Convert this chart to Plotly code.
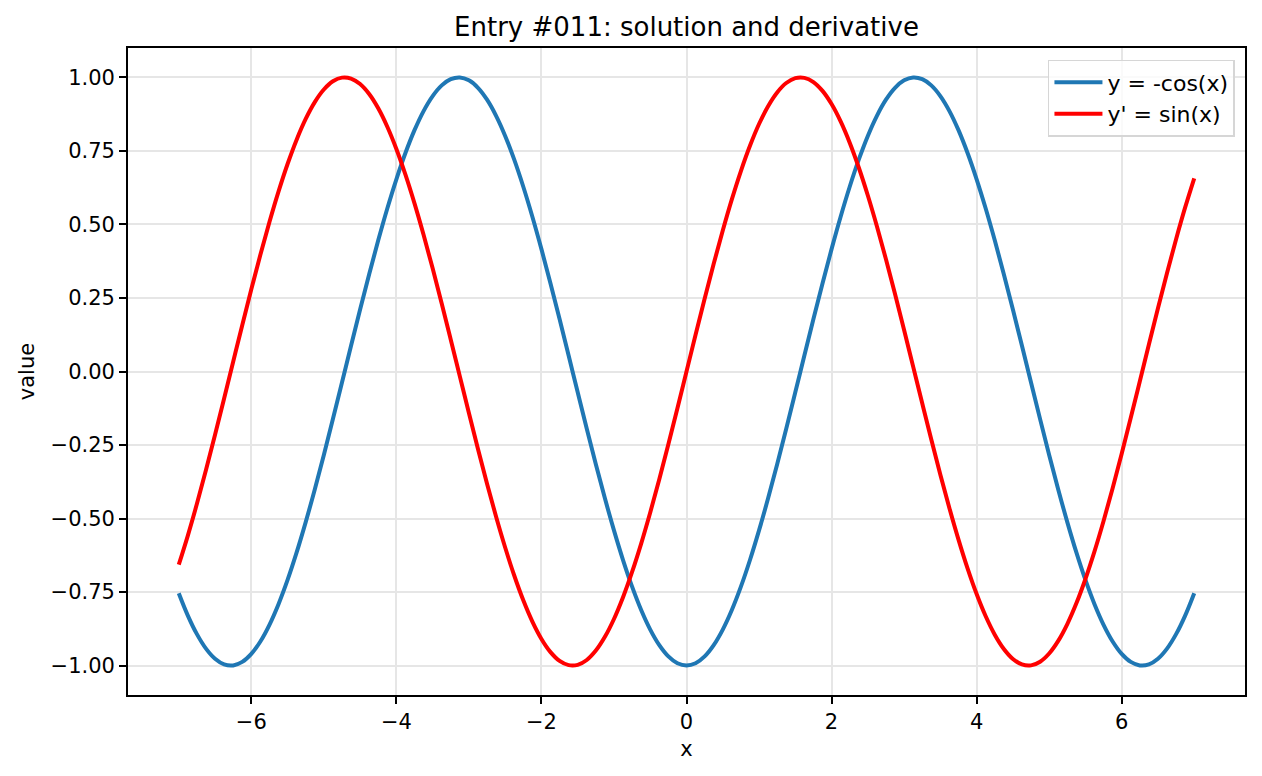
import plotly.graph_objects as go

# x sample positions
x_vals = [-7.0, -6.875, -6.75, -6.625, -6.5, -6.375, -6.25, -6.125, -6.0, -5.875, -5.75, -5.625,
          -5.5, -5.375, -5.25, -5.125, -5.0, -4.875, -4.75, -4.625, -4.5, -4.375, -4.25, -4.125,
          -4.0, -3.875, -3.75, -3.625, -3.5, -3.375, -3.25, -3.125, -3.0, -2.875, -2.75, -2.625,
          -2.5, -2.375, -2.25, -2.125, -2.0, -1.875, -1.75, -1.625, -1.5, -1.375, -1.25, -1.125,
          -1.0, -0.875, -0.75, -0.625, -0.5, -0.375, -0.25, -0.125,
          0.0,
          0.125, 0.25, 0.375, 0.5, 0.625, 0.75, 0.875, 1.0, 1.125, 1.25, 1.375, 1.5,
          1.625, 1.75, 1.875, 2.0, 2.125, 2.25, 2.375, 2.5, 2.625, 2.75, 2.875, 3.0,
          3.125, 3.25, 3.375, 3.5, 3.625, 3.75, 3.875, 4.0, 4.125, 4.25, 4.375, 4.5,
          4.625, 4.75, 4.875, 5.0, 5.125, 5.25, 5.375, 5.5, 5.625, 5.75, 5.875, 6.0,
          6.125, 6.25, 6.375, 6.5, 6.625, 6.75, 6.875, 7.0]

# y = -cos(x) values
y_vals = [-0.7539, -0.8299, -0.8930, -0.9422, -0.9766, -0.9958, -0.9994, -0.9875, -0.9602,
          -0.9179, -0.8612, -0.7911, -0.7087, -0.6152, -0.5121, -0.4010, -0.2837, -0.1619,
          -0.0376, 0.0873, 0.2108, 0.3310, 0.4461, 0.5542, 0.6536, 0.7429, 0.8206, 0.8855,
          0.9365, 0.9729, 0.9941, 0.9999, 0.9900, 0.9647, 0.9243, 0.8695, 0.8011, 0.7203,
          0.6282, 0.5263, 0.4161, 0.2995, 0.1782, 0.0542, -0.0707, -0.1945, -0.3153, -0.4312,
          -0.5403, -0.6410, -0.7317, -0.8110, -0.8776, -0.9305, -0.9689, -0.9922,
          -1.0,
          -0.9922, -0.9689, -0.9305, -0.8776, -0.8110, -0.7317, -0.6410, -0.5403, -0.4312,
          -0.3153, -0.1945, -0.0707, 0.0542, 0.1782, 0.2995, 0.4161, 0.5263, 0.6282, 0.7203,
          0.8011, 0.8695, 0.9243, 0.9647, 0.9900, 0.9999, 0.9941, 0.9729, 0.9365, 0.8855,
          0.8206, 0.7429, 0.6536, 0.5542, 0.4461, 0.3310, 0.2108, 0.0873, -0.0376, -0.1619,
          -0.2837, -0.4010, -0.5121, -0.6152, -0.7087, -0.7911, -0.8612, -0.9179, -0.9602,
          -0.9875, -0.9994, -0.9958, -0.9766, -0.9422, -0.8930, -0.8299, -0.7539]

# y' = sin(x) values
dy_vals = [-0.6570, -0.5579, -0.4500, -0.3352, -0.2151, -0.0917, 0.0332, 0.1575, 0.2794,
           0.3970, 0.5083, 0.6117, 0.7055, 0.7884, 0.8589, 0.9161, 0.9589, 0.9868, 0.9993,
           0.9962, 0.9775, 0.9436, 0.8950, 0.8324, 0.7568, 0.6694, 0.5716, 0.4648, 0.3508,
           0.2313, 0.1082, -0.0166, -0.1411, -0.2635, -0.3817, -0.4940, -0.5985, -0.6937,
           -0.7781, -0.8503, -0.9093, -0.9541, -0.9840, -0.9985, -0.9975, -0.9809, -0.9490,
           -0.9023, -0.8415, -0.7675, -0.6816, -0.5851, -0.4794, -0.3663, -0.2474, -0.1247,
           0.0,
           0.1247, 0.2474, 0.3663, 0.4794, 0.5851, 0.6816, 0.7675, 0.8415, 0.9023, 0.9490,
           0.9809, 0.9975, 0.9985, 0.9840, 0.9541, 0.9093, 0.8503, 0.7781, 0.6937, 0.5985,
           0.4940, 0.3817, 0.2635, 0.1411, 0.0166, -0.1082, -0.2313, -0.3508, -0.4648,
           -0.5716, -0.6694, -0.7568, -0.8324, -0.8950, -0.9436, -0.9775, -0.9962, -0.9993,
           -0.9868, -0.9589, -0.9161, -0.8589, -0.7884, -0.7055, -0.6117, -0.5083, -0.3970,
           -0.2794, -0.1575, -0.0332, 0.0917, 0.2151, 0.3352, 0.4500, 0.5579, 0.6570]

x_ticks = [-6, -4, -2, 0, 2, 4, 6]
x_tick_text = ["\u22126", "\u22124", "\u22122", "0", "2", "4", "6"]
y_ticks = [-1.0, -0.75, -0.5, -0.25, 0.0, 0.25, 0.5, 0.75, 1.0]
y_tick_text = ["\u22121.00", "\u22120.75", "\u22120.50", "\u22120.25", "0.00",
               "0.25", "0.50", "0.75", "1.00"]

FONT = "DejaVu Sans"

fig = go.Figure()
fig.add_trace(go.Scatter(x=x_vals, y=y_vals, mode="lines", name="y = -cos(x)",
                         line=dict(color="#1f77b4", width=4, shape="spline", smoothing=1)))
fig.add_trace(go.Scatter(x=x_vals, y=dy_vals, mode="lines", name="y' = sin(x)",
                         line=dict(color="#ff0000", width=4, shape="spline", smoothing=1)))

axis_common = dict(
    showline=True, linecolor="black", linewidth=1.7, mirror=True,
    ticks="outside", ticklen=7, tickwidth=1.7, tickcolor="black",
    showgrid=True, gridcolor="#e6e6e6", gridwidth=1.7, zeroline=False,
    tickfont=dict(family=FONT, size=21, color="black"),
)

fig.update_layout(
    width=1262, height=776,
    margin=dict(l=128, r=17, t=48, b=81),
    paper_bgcolor="white", plot_bgcolor="white",
    font=dict(family=FONT, color="black"),
    title=dict(text="Entry #011: solution and derivative", x=0.5, xanchor="center",
               xref="paper", y=1 - 27 / 776, yanchor="middle", yref="container",
               font=dict(family=FONT, size=26, color="black")),
    xaxis=dict(range=[-7.7, 7.7], tickvals=x_ticks, ticktext=x_tick_text,
               title=dict(text="x", font=dict(family=FONT, size=21), standoff=8),
               **axis_common),
    yaxis=dict(range=[-1.1, 1.1], tickvals=y_ticks, ticktext=y_tick_text,
               title=dict(text="value", font=dict(family=FONT, size=21), standoff=10),
               **axis_common),
    legend=dict(x=0.991, y=0.9815, xanchor="right", yanchor="top", itemwidth=48,
                bgcolor="rgba(255,255,255,0.8)", bordercolor="#d6d6d6", borderwidth=1.5,
                font=dict(family=FONT, size=22, color="black")),
    showlegend=True,
)

fig.write_html("out.html")
